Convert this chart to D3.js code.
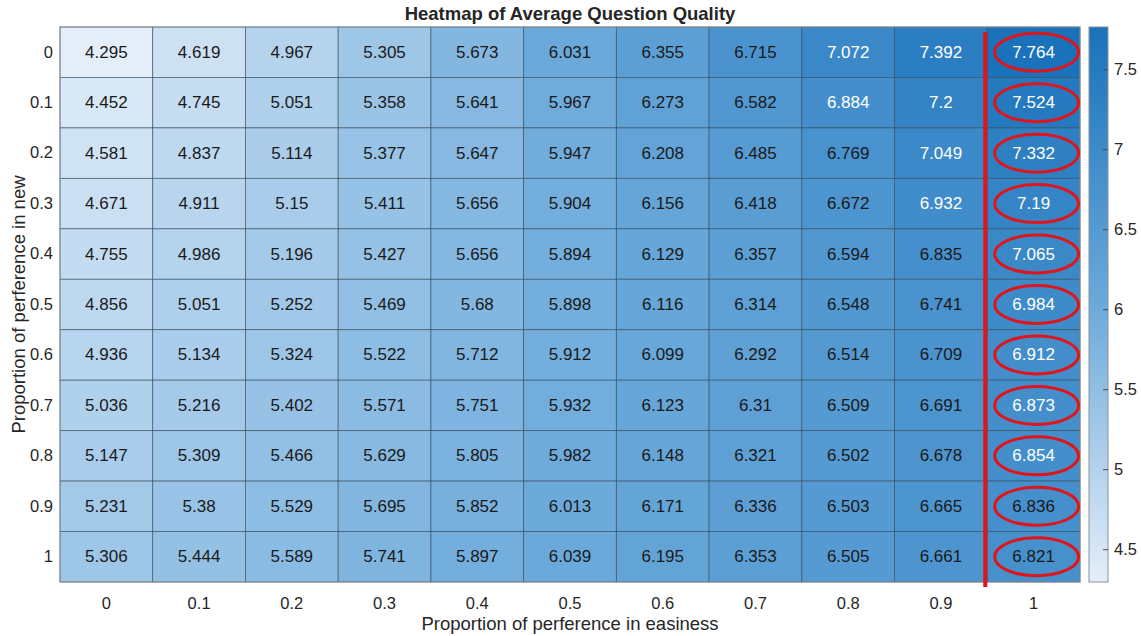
<!DOCTYPE html>
<html>
<head>
<meta charset="utf-8">
<script src="https://cdn.jsdelivr.net/npm/d3@7"></script>
<style>
  html, body { margin: 0; padding: 0; background: #fff; }
  svg { display: block; font-family: "Liberation Sans", Arial, Helvetica, sans-serif; }
</style>
</head>
<body>
<svg id="chart" width="1141" height="636"></svg>
<script>
// Proportion of preference in easiness (columns) and in new (rows)
const easiness = ["0", "0.1", "0.2", "0.3", "0.4", "0.5", "0.6", "0.7", "0.8", "0.9", "1"];
const newness  = ["0", "0.1", "0.2", "0.3", "0.4", "0.5", "0.6", "0.7", "0.8", "0.9", "1"];

// Average question quality, one row per "new" proportion
const quality = [
  [4.295, 4.619, 4.967, 5.305, 5.673, 6.031, 6.355, 6.715, 7.072, 7.392, 7.764],
  [4.452, 4.745, 5.051, 5.358, 5.641, 5.967, 6.273, 6.582, 6.884, 7.2,   7.524],
  [4.581, 4.837, 5.114, 5.377, 5.647, 5.947, 6.208, 6.485, 6.769, 7.049, 7.332],
  [4.671, 4.911, 5.15,  5.411, 5.656, 5.904, 6.156, 6.418, 6.672, 6.932, 7.19 ],
  [4.755, 4.986, 5.196, 5.427, 5.656, 5.894, 6.129, 6.357, 6.594, 6.835, 7.065],
  [4.856, 5.051, 5.252, 5.469, 5.68,  5.898, 6.116, 6.314, 6.548, 6.741, 6.984],
  [4.936, 5.134, 5.324, 5.522, 5.712, 5.912, 6.099, 6.292, 6.514, 6.709, 6.912],
  [5.036, 5.216, 5.402, 5.571, 5.751, 5.932, 6.123, 6.31,  6.509, 6.691, 6.873],
  [5.147, 5.309, 5.466, 5.629, 5.805, 5.982, 6.148, 6.321, 6.502, 6.678, 6.854],
  [5.231, 5.38,  5.529, 5.695, 5.852, 6.013, 6.171, 6.336, 6.503, 6.665, 6.836],
  [5.306, 5.444, 5.589, 5.741, 5.897, 6.039, 6.195, 6.353, 6.505, 6.661, 6.821]
];

const colorbarTicks = [4.5, 5, 5.5, 6, 6.5, 7, 7.5];
const highlightColumn = "1";

const svg = d3.select("#chart");
const plot = { left: 60, top: 27, right: 1080, bottom: 582 };
const FONT = "Liberation Sans, Arial, sans-serif";

const x = d3.scaleBand().domain(easiness).range([plot.left, plot.right]);
const y = d3.scaleBand().domain(newness).range([plot.top, plot.bottom]);

const flat = quality.flat();
const vMin = d3.min(flat), vMax = d3.max(flat);
const color = d3.scaleLinear()
  .domain([vMin, (vMin + vMax) / 2, vMax])
  .range(["#e4eef9", "#6ba9da", "#1a72bb"])
  .interpolate(d3.interpolateRgb);

const cells = [];
newness.forEach((r, i) => easiness.forEach((c, j) => cells.push({ r, c, v: quality[i][j] })));

// Cells
svg.append("g").selectAll("rect").data(cells).join("rect")
  .attr("x", d => x(d.c))
  .attr("y", d => y(d.r))
  .attr("width", x.bandwidth())
  .attr("height", y.bandwidth())
  .attr("fill", d => color(d.v))
  .attr("stroke", "#34495c")
  .attr("stroke-opacity", 0.75)
  .attr("stroke-width", 0.8);

// Cell labels
svg.append("g").selectAll("text").data(cells).join("text")
  .attr("x", d => x(d.c) + x.bandwidth() / 2)
  .attr("y", d => y(d.r) + y.bandwidth() / 2)
  .attr("text-anchor", "middle")
  .attr("dominant-baseline", "central")
  .attr("font-size", 17)
  .attr("fill", d => d.v >= 6.85 ? "#ffffff" : "#1a1a1a")
  .text(d => d.v);

// Outer frame
svg.append("rect")
  .attr("x", plot.left).attr("y", plot.top)
  .attr("width", plot.right - plot.left).attr("height", plot.bottom - plot.top)
  .attr("fill", "none").attr("stroke", "#8a9299").attr("stroke-width", 1);

// Axes (tick labels only)
const xAxis = svg.append("g")
  .attr("transform", `translate(0,${plot.bottom})`)
  .call(d3.axisBottom(x).tickSize(0).tickPadding(15));
xAxis.select(".domain").remove();
xAxis.selectAll("text").attr("font-size", 16.5).attr("fill", "#262626").attr("font-family", FONT);

const yAxis = svg.append("g")
  .attr("transform", `translate(${plot.left},0)`)
  .call(d3.axisLeft(y).tickSize(0).tickPadding(7));
yAxis.select(".domain").remove();
yAxis.selectAll("text").attr("font-size", 16.5).attr("fill", "#262626").attr("font-family", FONT);

// Title and axis labels
svg.append("text")
  .attr("x", (plot.left + plot.right) / 2 + 0).attr("y", 20)
  .attr("text-anchor", "middle").attr("font-size", 18.5).attr("font-weight", "bold")
  .attr("fill", "#262626")
  .text("Heatmap of Average Question Quality");

svg.append("text")
  .attr("x", (plot.left + plot.right) / 2).attr("y", 630)
  .attr("text-anchor", "middle").attr("font-size", 18.5).attr("fill", "#262626")
  .text("Proportion of perference in easiness");

svg.append("text")
  .attr("transform", `translate(25,${(plot.top + plot.bottom) / 2}) rotate(-90)`)
  .attr("text-anchor", "middle").attr("font-size", 18.5).attr("fill", "#262626")
  .text("Proportion of perference in new");

// Colorbar
const cb = { left: 1089, right: 1108 };
const cbScale = d3.scaleLinear().domain([vMin, vMax]).range([plot.bottom, plot.top]);
const defs = svg.append("defs");
const grad = defs.append("linearGradient").attr("id", "cbGrad")
  .attr("x1", 0).attr("y1", 1).attr("x2", 0).attr("y2", 0);
d3.range(0, 1.0001, 0.1).forEach(t => {
  grad.append("stop").attr("offset", t).attr("stop-color", color(vMin + t * (vMax - vMin)));
});
svg.append("rect")
  .attr("x", cb.left).attr("y", plot.top)
  .attr("width", cb.right - cb.left).attr("height", plot.bottom - plot.top)
  .attr("fill", "url(#cbGrad)").attr("stroke", "#8a9299").attr("stroke-width", 1);

const cbAxis = svg.append("g")
  .attr("transform", `translate(${cb.right},0)`)
  .call(d3.axisRight(cbScale).tickValues(colorbarTicks).tickSize(-5).tickPadding(6)
        .tickFormat(d3.format("")));
cbAxis.select(".domain").remove();
cbAxis.selectAll("line").attr("stroke", "#4a4a4a");
cbAxis.selectAll("text").attr("font-size", 16.5).attr("fill", "#262626").attr("font-family", FONT);

// Highlight: separator line and ellipses around the last column
const hx = x(highlightColumn);
svg.append("line")
  .attr("x1", hx - 2).attr("x2", hx - 2)
  .attr("y1", plot.top + 5).attr("y2", plot.bottom + 5)
  .attr("stroke", "#e0141b").attr("stroke-width", 4);

svg.append("g").selectAll("ellipse").data(newness).join("ellipse")
  .attr("cx", hx + x.bandwidth() / 2 + 3)
  .attr("cy", d => y(d) + y.bandwidth() / 2)
  .attr("rx", 42)
  .attr("ry", 19)
  .attr("fill", "none")
  .attr("stroke", "#e0141b")
  .attr("stroke-width", 3);
</script>
</body>
</html>
